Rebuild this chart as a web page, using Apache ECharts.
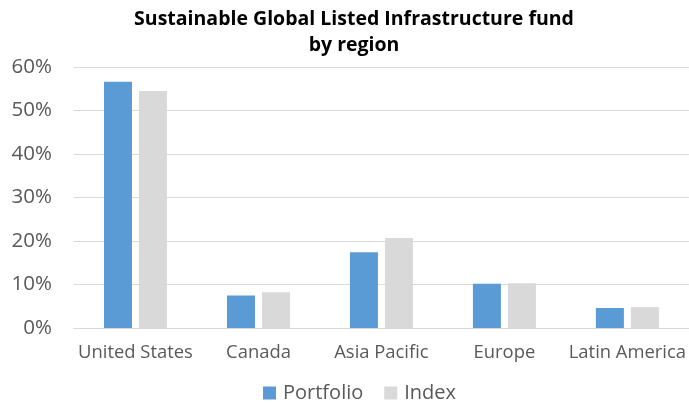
<!DOCTYPE html>
<html>
<head>
<meta charset="utf-8">
<script src="https://cdn.jsdelivr.net/npm/echarts@6/dist/echarts.min.js"></script>
<style>html,body{margin:0;padding:0;background:#fff;}#chart{width:689px;height:403px;}</style>
</head>
<body>
<div id="chart"></div>
<script>
var categories = ["United States", "Canada", "Asia Pacific", "Europe", "Latin America"];
var portfolio = [56.6, 7.5, 17.4, 10.2, 4.6];
var indexVals = [54.5, 8.2, 20.7, 10.3, 4.8];
var seriesNames = ["Portfolio", "Index"];
var titleText = "Sustainable Global Listed Infrastructure fund\nby region";

var FONT = "Open Sans";
var chart = echarts.init(document.getElementById('chart'), null, {renderer: 'canvas'});
chart.setOption({
  animation: false,
  backgroundColor: '#ffffff',
  title: {
    text: titleText,
    left: 354,
    textAlign: 'center',
    top: 6,
    padding: 0,
    textStyle: {fontFamily: FONT, fontSize: 19.5, fontWeight: 'bold', color: '#000', lineHeight: 26}
  },
  legend: {
    data: seriesNames,
    top: 381,
    left: 263,
    padding: 0,
    itemWidth: 13,
    itemHeight: 13,
    itemGap: 21,
    icon: 'rect',
    textStyle: {fontFamily: FONT, fontSize: 20, color: '#595959', padding: [0,0,0,2], lineHeight: 24}
  },
  grid: {left: 74, right: 0, top: 67, bottom: 75, containLabel: false},
  xAxis: {
    type: 'category',
    data: categories,
    axisLine: {show: true, lineStyle: {color: '#D9D9D9', width: 1}},
    axisTick: {show: false},
    axisLabel: {fontFamily: FONT, fontSize: 18.4, color: '#595959', margin: 16, interval: 0}
  },
  yAxis: {
    type: 'value',
    min: 0, max: 60, interval: 10,
    axisLine: {show: false},
    axisTick: {show: false},
    splitLine: {lineStyle: {color: '#D9D9D9', width: 1}},
    axisLabel: {fontFamily: FONT, fontSize: 20.5, color: '#595959', margin: 22, formatter: '{value}%'}
  },
  series: [
    {name: seriesNames[0], type: 'bar', data: portfolio, barWidth: 28, barGap: '25%', itemStyle: {color: '#5B9BD5'}},
    {name: seriesNames[1], type: 'bar', data: indexVals, barWidth: 28, barGap: '25%', itemStyle: {color: '#D9D9D9'}}
  ]
});
</script>
</body>
</html>
